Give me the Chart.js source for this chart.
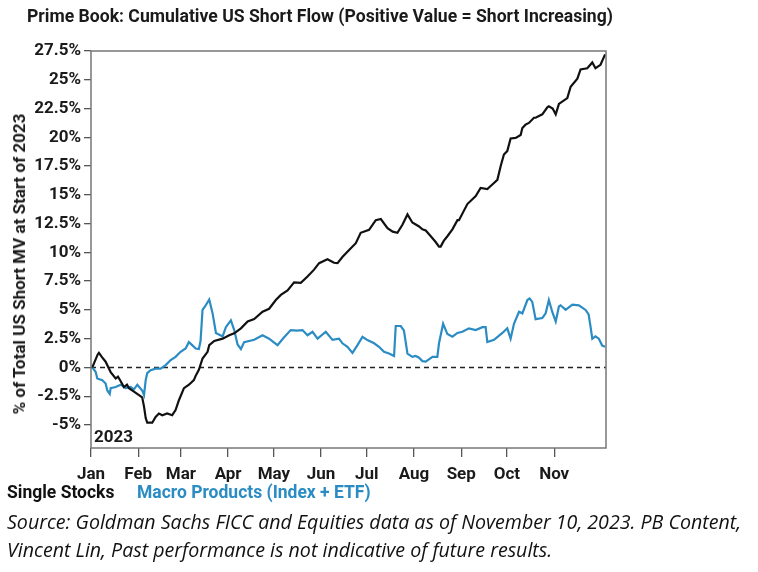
<!DOCTYPE html>
<html>
<head>
<meta charset="utf-8">
<title>Prime Book: Cumulative US Short Flow</title>
<script src="https://cdn.jsdelivr.net/npm/chart.js@4.4.0/dist/chart.umd.min.js"></script>
<style>
    body { margin: 0; background: #fff; }
    .page { position: relative; width: 758px; height: 572px; overflow: hidden; font-family: Roboto, sans-serif; }
    #chart { position: absolute; left: 0; top: 0; }
    .title { position: absolute; left: 27px; top: 6px; font-weight: 700; font-size: 17.6px; color: #1a1a1a; white-space: nowrap; }
    .ytitle { position: absolute; left: 19px; top: 264px; font-weight: 700; font-size: 17px; color: #1a1a1a; white-space: nowrap;
              transform: translate(-50%, -50%) rotate(-90deg); }
    .legend { position: absolute; top: 482px; font-weight: 700; font-size: 17.5px; white-space: nowrap; }
    .source { position: absolute; left: 7px; top: 508px; font-family: 'Open Sans', sans-serif; font-style: italic; font-size: 19.6px;
              line-height: 28px; color: #111; white-space: nowrap; }
</style>
</head>
<body>
<div class="page">
    <canvas id="chart" width="758" height="572"></canvas>
    <div class="title">Prime Book: Cumulative US Short Flow (Positive Value = Short Increasing)</div>
    <div class="ytitle">% of Total US Short MV at Start of 2023</div>
    <div class="legend" style="left:7px;color:#111">Single Stocks</div>
    <div class="legend" style="left:137px;color:#2b8cc4">Macro Products (Index + ETF)</div>
    <div class="source">Source: Goldman Sachs FICC and Equities data as of November 10, 2023. PB Content,<br>Vincent Lin, Past performance is not indicative of future results.</div>
</div>
<script>
// ── Data (x = day of year 2023, y = % of total US short MV) ──
const monthDays = [0, 31, 59, 90, 120, 151, 181, 212, 243, 273, 304];
const monthLabels = ['Jan', 'Feb', 'Mar', 'Apr', 'May', 'Jun', 'Jul', 'Aug', 'Sep', 'Oct', 'Nov'];
const yTicks = [-5, -2.5, 0, 2.5, 5, 7.5, 10, 12.5, 15, 17.5, 20, 22.5, 25, 27.5];

const stocksDays = [0.85, 4.4, 5.2, 7.2, 9.6, 12.9, 16.2, 17.7, 19.5, 21.6, 23.6, 24.9, 28.2, 31.5, 33.6, 34.8,
    35.9, 36.9, 40.2, 42.4, 44.6, 46.8, 50.0, 53.3, 55.5, 57.7, 61.0, 64.3, 67.5, 68.9, 70.8, 73.2, 76.5,
    77.6, 80.9, 86.4, 90.7, 94.0, 98.4, 102.8, 107.1, 112.6, 116.9, 121.3, 124.6, 129.0, 133.3, 137.7,
    142.1, 146.4, 149.7, 155.2, 159.5, 161.8, 165.0, 169.4, 173.8, 177.0, 182.5, 186.9, 190.2, 194.6,
    198.0, 201.1, 204.4, 207.7, 210.9, 215.3, 217.5, 219.7, 223.0, 226.2, 228.4, 229.5, 231.5, 233.9,
    237.2, 240.5, 241.5, 247.0, 252.5, 255.7, 260.1, 263.4, 266.7, 268.9, 271.0, 273.2, 275.4, 278.7,
    282.0, 283.1, 285.2, 287.4, 290.7, 291.8, 296.2, 299.5, 300.5, 303.0, 305.0, 307.1, 312.6, 314.8,
    319.2, 321.3, 325.7, 329.0, 331.1, 334.4, 337.4];
const stocksValues = [0, 1.13, 1.27, 0.9, 0.5, -0.4, -0.96, -0.8, -1.2, -1.7, -1.5, -1.8, -2.1, -2.4, -2.6, -3.4,
    -4.4, -4.8, -4.8, -4.3, -4.0, -4.15, -4.0, -4.15, -3.7, -2.85, -1.8, -1.5, -1.1, -0.67, -0.2, 0.78, 1.36,
    1.94, 2.3, 2.5, 2.8, 2.96, 3.4, 4.0, 4.2, 4.84, 5.1, 5.86, 6.3, 6.7, 7.4, 7.35,
    7.9, 8.5, 9.06, 9.4, 9.1, 9.06, 9.6, 10.2, 10.8, 11.7, 11.96, 12.8, 12.9, 12.1,
    11.8, 11.7, 12.4, 13.3, 12.6, 12.25, 12.0, 11.9, 11.4, 10.9, 10.5, 10.5, 11.0, 11.4,
    12.0, 12.8, 12.8, 14.2, 14.9, 15.6, 15.5, 15.9, 16.3, 17.5, 18.5, 18.8, 19.9, 19.95,
    20.2, 20.8, 21.1, 21.25, 21.7, 21.7, 22.0, 22.6, 22.7, 22.5, 22.0, 22.9, 23.4, 24.4,
    25.1, 25.9, 26.0, 26.5, 26.0, 26.3, 27.2];

const macroDays = [0.85, 3.1, 4.1, 7.4, 9.6, 10.7, 12.3, 12.9, 16.2, 19.5, 22.8, 26.0, 28.2, 30.4, 33.6, 34.8,
    35.9, 36.9, 39.1, 42.4, 45.7, 49.0, 52.3, 55.5, 58.8, 62.1, 64.2, 66.4, 68.7, 70.8, 71.9, 73.2, 74.8,
    77.6, 79.8, 82.0, 86.4, 88.5, 91.8, 94.0, 96.2, 98.4, 100.5, 107.1, 112.6, 116.9, 122.4, 126.6,
    131.1, 135.1, 138.8, 142.1, 145.4, 148.7, 154.1, 158.5, 162.8, 165.0, 168.3, 171.6, 174.9, 178.2,
    181.4, 185.8, 189.0, 192.3, 195.6, 198.9, 200.0, 203.3, 205.4, 207.7, 210.9, 213.1, 215.3, 217.5,
    219.7, 224.1, 227.3, 228.4, 231.1, 233.9, 237.2, 240.5, 243.7, 248.1, 252.5, 256.9, 259.0, 260.1,
    264.5, 270.0, 273.2, 275.4, 277.6, 280.9, 283.1, 286.4, 287.9, 289.6, 291.8, 296.2, 298.4, 300.5,
    302.8, 305.0, 307.1, 308.2, 311.5, 315.9, 320.2, 324.6, 326.6, 327.9, 329.0, 331.1, 333.3, 335.5, 337.4];
const macroValues = [0, -0.4, -0.96, -1.1, -1.4, -2.0, -2.3, -1.8, -1.7, -1.5, -1.8, -1.7, -1.9, -1.5, -2.0, -2.4,
    -1.1, -0.5, -0.24, -0.1, -0.1, 0.2, 0.64, 0.92, 1.36, 1.65, 2.2, 1.94, 1.65, 1.6, 2.3, 5.0, 5.3,
    5.9, 4.7, 3.0, 2.7, 3.5, 4.1, 3.25, 2.0, 1.6, 2.2, 2.4, 2.8, 2.5, 1.94, 2.6,
    3.25, 3.2, 3.25, 2.8, 3.1, 2.5, 3.1, 2.4, 2.5, 2.1, 1.8, 1.27, 1.94, 2.67,
    2.38, 2.1, 1.8, 1.36, 1.22, 1.0, 3.6, 3.6, 3.2, 1.2, 0.92, 1.0, 0.85, 0.55,
    0.5, 0.92, 0.92, 2.1, 3.8, 2.9, 2.67, 3.0, 3.1, 3.4, 3.25, 3.5, 3.5, 2.2,
    2.4, 3.0, 3.4, 2.5, 3.8, 4.84, 4.7, 5.86, 6.0, 5.7, 4.2, 4.3, 4.7, 5.86,
    4.8, 4.0, 5.3, 5.4, 5.0, 5.45, 5.4, 5.0, 4.6, 3.5, 2.5, 2.7, 2.5, 1.9, 1.8];

const toPoints = (xs, ys) => xs.map((x, i) => ({ x: x, y: ys[i] }));

const TICK_COLOR = '#555';
const FONT = 'Roboto, sans-serif';

// ── Plot frame, zero line and year tag ──
const framePlugin = {
    id: 'frame',
    beforeDatasetsDraw(chart) {
        const { ctx, chartArea, scales } = chart;
        const y0 = scales.y.getPixelForValue(0);
        ctx.save();
        ctx.strokeStyle = '#222';
        ctx.lineWidth = 1.4;
        ctx.setLineDash([5, 4]);
        ctx.beginPath();
        ctx.moveTo(chartArea.left, y0);
        ctx.lineTo(chartArea.right, y0);
        ctx.stroke();
        ctx.setLineDash([]);
        ctx.fillStyle = '#1a1a1a';
        ctx.font = 'bold 17px ' + FONT;
        ctx.textBaseline = 'bottom';
        ctx.fillText('2023', chartArea.left + 3, chartArea.bottom - 2);
        ctx.restore();
    },
    afterDraw(chart) {
        const { ctx, chartArea } = chart;
        ctx.save();
        ctx.strokeStyle = '#777';
        ctx.lineWidth = 1.5;
        ctx.strokeRect(chartArea.left, chartArea.top, chartArea.right - chartArea.left, chartArea.bottom - chartArea.top);
        ctx.restore();
    }
};

new Chart(document.getElementById('chart'), {
    type: 'line',
    data: {
        datasets: [{
            label: 'Single Stocks',
            data: toPoints(stocksDays, stocksValues),
            borderColor: '#111',
            borderWidth: 2.2,
            pointRadius: 0,
            tension: 0,
        }, {
            label: 'Macro Products (Index + ETF)',
            data: toPoints(macroDays, macroValues),
            borderColor: '#2b8cc4',
            borderWidth: 2.2,
            pointRadius: 0,
            tension: 0,
        }]
    },
    options: {
        responsive: false,
        animation: false,
        layout: { padding: { top: 51, right: 152, left: 0, bottom: 84 } },
        plugins: {
            legend: { display: false },
            tooltip: { enabled: false },
        },
        scales: {
            x: {
                type: 'linear',
                min: 0,
                max: 338,
                afterBuildTicks: (scale) => { scale.ticks = monthDays.map(v => ({ value: v })); },
                afterFit: (scale) => { scale.height = 40; },
                grid: { drawOnChartArea: false, drawTicks: true, tickLength: 9, color: TICK_COLOR, lineWidth: 1.3 },
                border: { display: false },
                ticks: {
                    callback: (v, i) => monthLabels[i],
                    color: '#1a1a1a',
                    font: { family: FONT, size: 17, weight: 'bold' },
                    padding: 8,
                    maxRotation: 0,
                    autoSkip: false,
                }
            },
            y: {
                min: -7,
                max: 27.5,
                afterBuildTicks: (scale) => { scale.ticks = yTicks.map(v => ({ value: v })); },
                afterFit: (scale) => { scale.width = 91; },
                grid: { drawOnChartArea: false, drawTicks: true, tickLength: 7, color: TICK_COLOR, lineWidth: 1.3 },
                border: { display: false },
                ticks: {
                    callback: (v) => v + '%',
                    color: '#1a1a1a',
                    font: { family: FONT, size: 17, weight: 'bold' },
                    padding: 3,
                    autoSkip: false,
                }
            }
        }
    },
    plugins: [framePlugin]
});
</script>
</body>
</html>
